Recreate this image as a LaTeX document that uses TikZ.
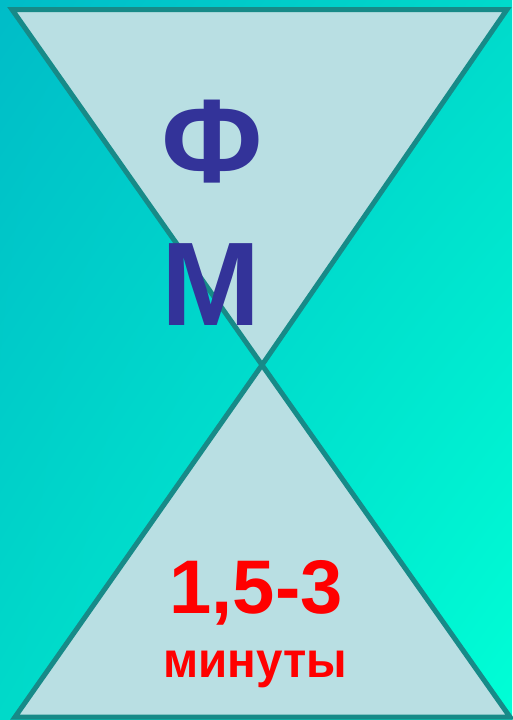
\documentclass[tikz,border=0pt]{standalone}
\usepackage{fontspec}
\setmainfont{Liberation Sans}
\usetikzlibrary{positioning, calc, shadings}
\usepackage{xcolor}
\definecolor{bgtl}{HTML}{00BCC8}
\definecolor{bgtr}{HTML}{00DACB}
\definecolor{bgbl}{HTML}{00DAC9}
\definecolor{bgbr}{HTML}{00FFD6}
\definecolor{glass}{HTML}{B9DFE3}
\definecolor{rim}{HTML}{178A88}
\definecolor{ink}{HTML}{333399}
\definecolor{sandred}{HTML}{FF0000}

\begin{document}
\begin{tikzpicture}[
      x=1pt, y=-1pt,
      every node/.style={font=\bfseries, inner sep=0pt},
      glassbox/.style={draw=rim, line width=5pt, fill=glass, line join=miter},
      bigletter/.style={text=ink, font=\fontsize{119}{119}\selectfont\bfseries},
      timetext/.style={text=sandred},
    ]
    % background
    \shade[upper left=bgtl, upper right=bgtr, lower left=bgbl, lower right=bgbr]
      (0,0) rectangle (512,720);
    \useasboundingbox (0,0) rectangle (512,720);

    \coordinate (tl) at (12,9.5);
    \coordinate (tr) at (507,9.5);
    \coordinate (mid) at (262,365);
    \coordinate (bl) at (15,717);
    \coordinate (br) at (510,717);

    % hourglass
    \draw[glassbox] (tl) -- (tr) -- (mid) -- cycle;
    \draw[glassbox] (mid) -- (br) -- (bl) -- cycle;

    \node[bigletter, anchor=base] (phi) at (212,182) {Ф};
    \node[bigletter, anchor=base] (em) at (211,325) {М};

    \node[timetext, anchor=base, font=\fontsize{76}{76}\selectfont\bfseries]
      (num) at (256,613) {1,5-3};
    \node[timetext, anchor=base, font=\fontsize{50}{50}\selectfont\bfseries,
          xscale=0.95]
      (unit) at (255,677) {минуты};
  \end{tikzpicture}
\end{document}
